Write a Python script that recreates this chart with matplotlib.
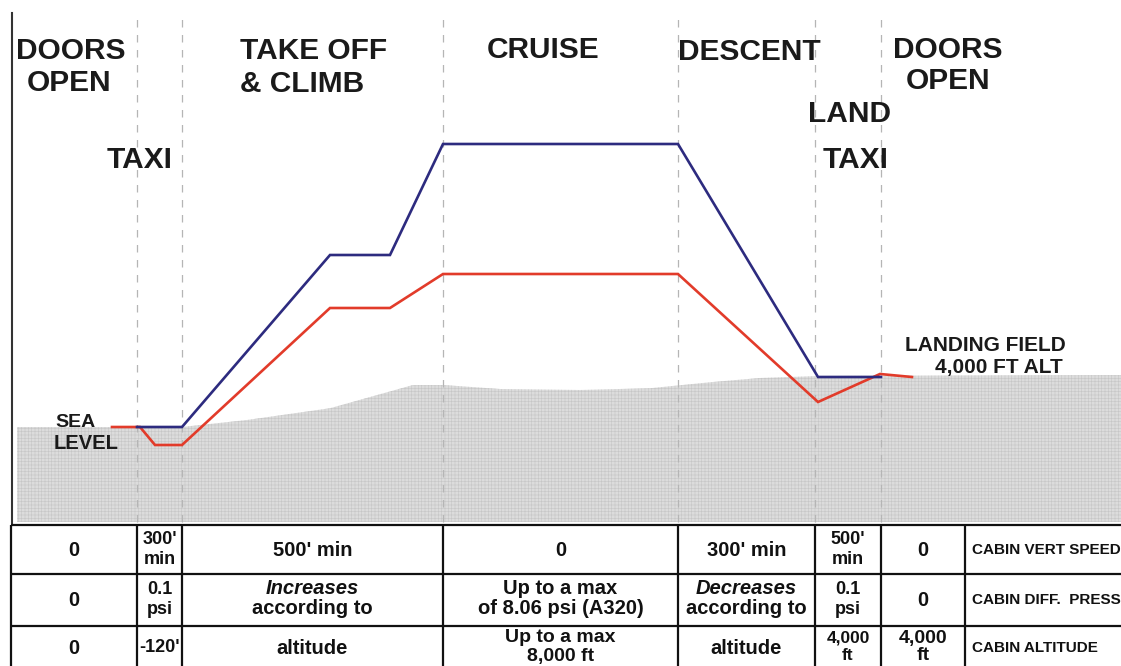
import matplotlib
matplotlib.use("Agg")
import matplotlib.pyplot as plt

plt.rcParams['font.family'] = ['Liberation Sans', 'DejaVu Sans']
plt.rcParams['hatch.linewidth'] = 0.4

# ---------------- data (schematic units: time axis = diagram position, altitude in ft-like units) ----
# phase boundaries along the time axis
phase_bounds = [137, 182, 443, 678, 815, 881]
table_cols = [11, 137, 182, 443, 678, 815, 881, 965, 1121]

# aircraft altitude profile (blue)
aircraft_t = [137, 182, 330, 390, 443, 678, 818, 881]
aircraft_alt = [0, 0, 13760, 13760, 22640, 22640, 4000, 4000]

# cabin altitude profile (red)
cabin_t = [112, 140, 155, 182, 330, 390, 443, 678, 818, 880, 912]
cabin_alt = [0, 0, -1440, -1440, 9520, 9520, 12240, 12240, 2000, 4240, 4000]

# terrain (grey ground)
terrain_t = [17, 182, 247, 330, 413, 443, 500, 580, 650, 713, 760, 820, 1121]
terrain_alt = [0, 0, 560, 1500, 3360, 3360, 3040, 2960, 3100, 3600, 3920, 4080, 4160]

# table content
row1 = ["0", "300'\nmin", "500' min", "0", "300' min", "500'\nmin", "0"]
row2 = ["0", "0.1\npsi", "Increases\naccording to", "Up to a max\nof 8.06 psi (A320)", "Decreases\naccording to", "0.1\npsi", "0"]
row3 = ["0", "-120'", "altitude", "Up to a max\n8,000 ft", "altitude", "4,000\nft", "4,000\nft"]
row_names = ["CABIN VERT SPEED", "CABIN DIFF.  PRESS", "CABIN ALTITUDE"]

# ---------------- figure ----------------
W, H = 1121, 666
fig = plt.figure(figsize=(W / 100, H / 100), dpi=100)
fig.patch.set_facecolor('white')

# profile axes (top part, down to table top at px 525)
top_px = 525
axc = fig.add_axes([0, 1 - top_px / H, 1, top_px / H])
ft_per_px = 80.0
sea_px = 427
axc.set_xlim(0, W)
axc.set_ylim((sea_px - top_px) * ft_per_px, sea_px * ft_per_px)
axc.axis('off')
axc.set_zorder(1)

# whole-figure pixel axes for table/text, drawn on top
axp = fig.add_axes([0, 0, 1, 1])
axp.set_xlim(0, W)
axp.set_ylim(H, 0)
axp.axis('off')
axp.set_zorder(2)
axp.patch.set_alpha(0)

# terrain
terrain_bottom = (sea_px - 522) * ft_per_px
axc.fill_between(terrain_t, terrain_alt, terrain_bottom, facecolor='#dcdcdc', edgecolor='none', zorder=1)
axc.fill_between(terrain_t, terrain_alt, terrain_bottom, facecolor='none', edgecolor='#c6c6c6',
                 hatch='+++++', linewidth=0, zorder=1.1)

# phase dashed lines
for xb in phase_bounds:
    axc.plot([xb, xb], [terrain_bottom, (sea_px - 15) * ft_per_px], color='#b5b5b5', lw=0.9,
             ls=(0, (6, 6)), zorder=2)

# profiles
axc.plot(cabin_t, cabin_alt, color='#e23b2a', lw=1.9, solid_joinstyle='miter', zorder=4)
axc.plot(aircraft_t, aircraft_alt, color='#2d2b7f', lw=1.9, solid_joinstyle='miter', zorder=5)

# left vertical rule
axp.plot([12, 12], [13, 525], color='#333333', lw=1.5)

# phase labels
fs = 21.5
lbl_kw = dict(fontsize=fs, fontweight='bold', color='#1a1a1a', va='baseline')
axp.text(71, 59, "DOORS", ha='center', **lbl_kw)
axp.text(69, 91, "OPEN", ha='center', **lbl_kw)
axp.text(240, 59, "TAKE OFF", ha='left', **lbl_kw)
axp.text(240, 92, "& CLIMB", ha='left', **lbl_kw)
axp.text(543, 58, "CRUISE", ha='center', **lbl_kw)
axp.text(749, 60, "DESCENT", ha='center', **lbl_kw)
axp.text(948, 58, "DOORS", ha='center', **lbl_kw)
axp.text(948, 89, "OPEN", ha='center', **lbl_kw)
axp.text(140, 168, "TAXI", ha='center', **lbl_kw)
axp.text(849, 122, "LAND", ha='center', **lbl_kw)
axp.text(856, 168, "TAXI", ha='center', **lbl_kw)

axp.text(55, 427, "SEA", ha='left', va='baseline', fontsize=14, fontweight='bold', color='#1a1a1a')
axp.text(54, 449, "LEVEL", ha='left', va='baseline', fontsize=14.5, fontweight='bold', color='#1a1a1a')
axp.text(1066, 351, "LANDING FIELD", ha='right', va='baseline', fontsize=15, fontweight='bold', color='#1a1a1a')
axp.text(1063, 373, "4,000 FT ALT", ha='right', va='baseline', fontsize=15, fontweight='bold', color='#1a1a1a')

# table grid
row_lines = [525, 574, 626]
for yl in row_lines:
    axp.plot([11, W], [yl, yl], color='#111111', lw=1.6, solid_capstyle='butt')
for xl in table_cols[:-1]:
    axp.plot([xl, xl], [525, H], color='#111111', lw=1.6, solid_capstyle='butt')

row_centers = [550, 600, 648]
line_steps = [20, 20, 18]
rows = [row1, row2, row3]
for r, (row, yc) in enumerate(zip(rows, row_centers)):
    step = line_steps[r]
    for c, txt in enumerate(row):
        xc = (table_cols[c] + table_cols[c + 1]) / 2
        narrow = (table_cols[c + 1] - table_cols[c]) < 80
        size = 13 if narrow else 14.5
        lines = txt.split("\n")
        if len(lines) == 1:
            axp.text(xc, yc, txt, ha='center', va='center', fontsize=size, fontweight='bold',
                     color='#111111')
        else:
            for k, line in enumerate(lines):
                italic = line in ("Increases", "Decreases")
                axp.text(xc, yc - step / 2 - 1 + step * k, line, ha='center', va='center',
                         fontsize=size if r < 2 else size - 0.5,
                         fontweight='bold', fontstyle='italic' if italic else 'normal',
                         color='#111111')
    axp.text(972, yc, row_names[r], ha='left', va='center', fontsize=11, fontweight='bold', color='#111111')

fig.savefig("out.png", dpi=100)
